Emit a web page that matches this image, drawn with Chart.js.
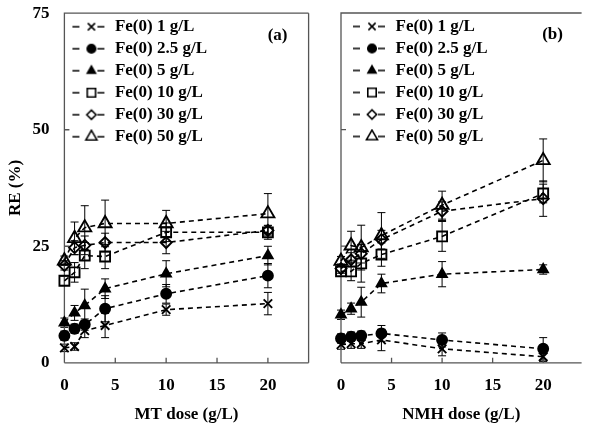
<!DOCTYPE html>
<html>
<head>
<meta charset="utf-8">
<script src="https://cdn.jsdelivr.net/npm/chart.js@4.4.0/dist/chart.umd.min.js"></script>
<style>
  html, body { margin: 0; padding: 0; background: #fff; }
  #wrap { position: relative; width: 591px; height: 425px; overflow: hidden; }
  #chartA { position: absolute; left: 0; top: -12px; }
  #chartB { position: absolute; left: 318px; top: 0; }
</style>
</head>
<body>
<div id="wrap">
  <canvas id="chartA" width="318" height="437"></canvas>
  <canvas id="chartB" width="273" height="425"></canvas>
</div>
<script>
// doses (g/L) on the x axis, same for both panels
const doses = [0, 1, 2, 4, 10, 20];
const seriesLabels = ['Fe(0) 1 g/L', 'Fe(0) 2.5 g/L', 'Fe(0) 5 g/L', 'Fe(0) 10 g/L', 'Fe(0) 30 g/L', 'Fe(0) 50 g/L'];
const xTicks = [0, 5, 10, 15, 20];
const yTicks = [0, 25, 50, 75];

// panel (a): MT dose
const mt1 = [3.2, 3.5, 6.9, 8.0, 11.4, 12.7];
const mt25 = [5.8, 7.3, 8.2, 11.6, 14.8, 18.7];
const mt5 = [8.6, 10.7, 12.3, 15.9, 19.1, 23.0];
const mt10 = [17.6, 19.4, 23.0, 22.8, 28.0, 28.0];
const mt30 = [20.9, 24.7, 25.2, 25.8, 25.8, 28.4];
const mt50 = [21.9, 26.7, 29.0, 29.9, 29.9, 32.0];
const mt1Err = [0.8, 0.8, 1.5, 2.6, 1.2, 2.4];
const mt25Err = [1.0, 1.0, 1.2, 2.8, 2.0, 2.6];
const mt5Err = [1.0, 1.6, 3.5, 2.1, 2.8, 2.0];
const mt10Err = [1.0, 2.1, 2.8, 2.6, 2.0, 1.5];
const mt30Err = [1.0, 1.5, 2.0, 2.0, 2.4, 1.0];
const mt50Err = [1.0, 3.5, 4.7, 5.0, 2.8, 4.3];

// panel (b): NMH dose
const nmh1 = [3.9, 4.1, 4.1, 4.9, 3.0, 1.3];
const nmh25 = [5.2, 5.6, 5.8, 6.3, 4.9, 3.0];
const nmh5 = [10.3, 11.6, 13.0, 17.0, 19.0, 20.0];
const nmh10 = [19.6, 19.6, 21.3, 23.2, 27.1, 36.3];
const nmh30 = [20.2, 22.1, 23.4, 26.4, 32.5, 35.2];
const nmh50 = [21.8, 25.1, 24.7, 27.3, 33.8, 43.4];
const nmh1Err = [1.0, 1.0, 1.0, 2.3, 1.5, 1.0];
const nmh25Err = [1.0, 1.0, 1.0, 1.7, 1.5, 2.4];
const nmh5Err = [1.0, 1.2, 3.2, 2.0, 2.7, 1.0];
const nmh10Err = [1.0, 2.0, 4.0, 2.5, 3.2, 2.0];
const nmh30Err = [1.0, 1.5, 2.0, 2.0, 2.0, 3.8];
const nmh50Err = [1.0, 3.1, 4.8, 4.9, 3.0, 4.6];

const markers = [
  { style: 'crossRot', radius: 6, fill: false },
  { style: 'circle', radius: 5, fill: true },
  { style: 'triangle', radius: 5.5, fill: true },
  { style: 'rect', radius: 7, fill: false },
  { style: 'rectRot', radius: 5.5, fill: false },
  { style: 'triangle', radius: 7.5, fill: false }
];

const FONT = 'Liberation Serif, Times New Roman, serif';

function makeDatasets(values, errors) {
  return values.map(function(vals, i) {
    return {
      label: seriesLabels[i],
      data: doses.map(function(d, j) { return { x: d, y: vals[j] }; }),
      errors: errors[i],
      borderColor: '#000',
      backgroundColor: markers[i].fill ? '#000' : 'rgba(0,0,0,0)',
      borderWidth: 1.6,
      borderDash: [5, 4],
      pointStyle: markers[i].style,
      pointRadius: markers[i].radius,
      pointBorderWidth: 1.9,
      pointBorderColor: '#000',
      pointBackgroundColor: markers[i].fill ? '#000' : 'rgba(0,0,0,0)',
      clip: false,
      tension: 0
    };
  });
}

// little "- marker -" pictures for the legend
function makeIcon(m, lead) {
  const c = document.createElement('canvas');
  c.width = lead + 37;
  c.height = 16;
  const g = c.getContext('2d');
  g.strokeStyle = '#000';
  g.lineWidth = 1.6;
  g.beginPath();
  g.moveTo(lead + 3, 8); g.lineTo(lead + 10, 8);
  g.moveTo(lead + 28, 8); g.lineTo(lead + 35, 8);
  g.stroke();
  g.fillStyle = m.fill ? '#000' : '#fff';
  Chart.helpers.drawPoint(g, { pointStyle: m.style, radius: m.radius * 0.85, borderWidth: 1.8, rotation: 0 }, lead + 22, 8);
  return c;
}

const errorBars = {
  id: 'errorBars',
  beforeDatasetsDraw(chart) {
    const ctx = chart.ctx, x = chart.scales.x, y = chart.scales.y;
    ctx.save();
    ctx.strokeStyle = '#000';
    ctx.lineWidth = 1;
    chart.data.datasets.forEach(function(ds) {
      ds.data.forEach(function(p, i) {
        const e = ds.errors[i];
        const px = x.getPixelForValue(p.x);
        const top = y.getPixelForValue(p.y + e);
        const bot = y.getPixelForValue(p.y - e);
        ctx.beginPath();
        ctx.moveTo(px, top); ctx.lineTo(px, bot);
        ctx.moveTo(px - 4, top); ctx.lineTo(px + 4, top);
        ctx.moveTo(px - 4, bot); ctx.lineTo(px + 4, bot);
        ctx.stroke();
      });
    });
    ctx.restore();
  }
};

const frame = {
  id: 'frame',
  beforeDatasetsDraw(chart, args, opts) {
    const ctx = chart.ctx, a = chart.chartArea;
    const x = chart.scales.x, y = chart.scales.y;
    ctx.save();
    ctx.strokeStyle = '#555';
    ctx.lineWidth = 1.3;
    ctx.beginPath();
    ctx.moveTo(a.left, a.bottom); ctx.lineTo(a.left, a.top); ctx.lineTo(a.right, a.top);
    ctx.moveTo(a.left, a.bottom); ctx.lineTo(a.right, a.bottom);
    if (opts.right) { ctx.moveTo(a.right, a.top); ctx.lineTo(a.right, a.bottom); }
    // inward tick marks
    xTicks.forEach(function(v) {
      const px = x.getPixelForValue(v);
      ctx.moveTo(px, a.bottom); ctx.lineTo(px, a.bottom - 5);
    });
    yTicks.forEach(function(v) {
      const py = y.getPixelForValue(v);
      ctx.moveTo(a.left, py); ctx.lineTo(a.left + 5, py);
    });
    ctx.stroke();
    ctx.restore();
  },
  afterDraw(chart, args, opts) {
    const ctx = chart.ctx, a = chart.chartArea;
    ctx.save();
    ctx.fillStyle = '#000';
    ctx.font = 'bold 17px ' + FONT;
    ctx.textAlign = 'center';
    ctx.textBaseline = 'middle';
    ctx.fillText(opts.tag, a.right - opts.tagDx, a.top + 22);
    ctx.restore();
  }
};

// keep the legend inside the plot, top left
const legendInside = {
  id: 'legendInside',
  afterLayout(chart) {
    const l = chart.legend, a = chart.chartArea;
    l.left = a.left; l.top = a.top; l.right = a.right; l.bottom = a.bottom;
  }
};

function makeChart(id, values, errors, opt) {
  const icons = markers.map(function(m) { return makeIcon(m, opt.lead); });
  return new Chart(document.getElementById(id), {
    type: 'line',
    data: { datasets: makeDatasets(values, errors) },
    plugins: [errorBars, frame, legendInside],
    options: {
      responsive: false,
      animation: false,
      layout: { padding: opt.padding },
      plugins: {
        tooltip: { enabled: false },
        frame: { right: opt.right, tag: opt.tag, tagDx: opt.tagDx },
        legend: {
          position: 'chartArea',
          align: 'start',
          labels: {
            usePointStyle: true,
            pointStyleWidth: 37 + opt.lead,
            padding: 5,
            color: '#000',
            font: { family: FONT, size: 17, weight: 'bold' },
            generateLabels: function(chart) {
              return chart.data.datasets.map(function(ds, i) {
                return {
                  text: ds.label,
                  pointStyle: icons[i],
                  fillStyle: '#000',
                  strokeStyle: '#000',
                  lineWidth: 0,
                  hidden: false,
                  datasetIndex: i,
                  fontColor: '#000'
                };
              });
            }
          }
        }
      },
      scales: {
        x: {
          type: 'linear',
          min: 0,
          max: opt.xMax,
          grid: { display: false, drawTicks: false },
          border: { display: false },
          afterBuildTicks: function(axis) { axis.ticks = xTicks.map(function(v) { return { value: v }; }); },
          ticks: { color: '#000', padding: 13, font: { family: FONT, size: 17, weight: 'bold' } },
          title: {
            display: true,
            text: opt.xTitle,
            color: '#000',
            padding: { top: -4.6, bottom: 0 },
            font: { family: FONT, size: 17, weight: 'bold' }
          }
        },
        y: {
          min: 0,
          max: 75,
          grid: { display: false, drawTicks: false },
          border: { display: false },
          afterBuildTicks: function(axis) { axis.ticks = yTicks.map(function(v) { return { value: v }; }); },
          ticks: { display: opt.yLabels, color: '#000', padding: 15, font: { family: FONT, size: 17, weight: 'bold' } },
          title: {
            display: opt.yLabels,
            text: 'RE (%)',
            color: '#000',
            padding: { top: 5, bottom: -8 },
            font: { family: FONT, size: 17, weight: 'bold' }
          }
        }
      }
    }
  });
}

makeChart('chartA',
  [mt1, mt25, mt5, mt10, mt30, mt50],
  [mt1Err, mt25Err, mt5Err, mt10Err, mt30Err, mt50Err],
  { padding: { top: 0, right: 9, bottom: 0, left: 0 }, xMax: 24, xTitle: 'MT dose (g/L)',
    yLabels: true, right: true, tag: '(a)', tagDx: 31, lead: 0 });

makeChart('chartB',
  [nmh1, nmh25, nmh5, nmh10, nmh30, nmh50],
  [nmh1Err, nmh25Err, nmh5Err, nmh10Err, nmh30Err, nmh50Err],
  { padding: { top: 13, right: 0, bottom: 0, left: 23 }, xMax: 23.8, xTitle: 'NMH dose (g/L)',
    yLabels: false, right: false, tag: '(b)', tagDx: 29, lead: 4 });
</script>
</body>
</html>
